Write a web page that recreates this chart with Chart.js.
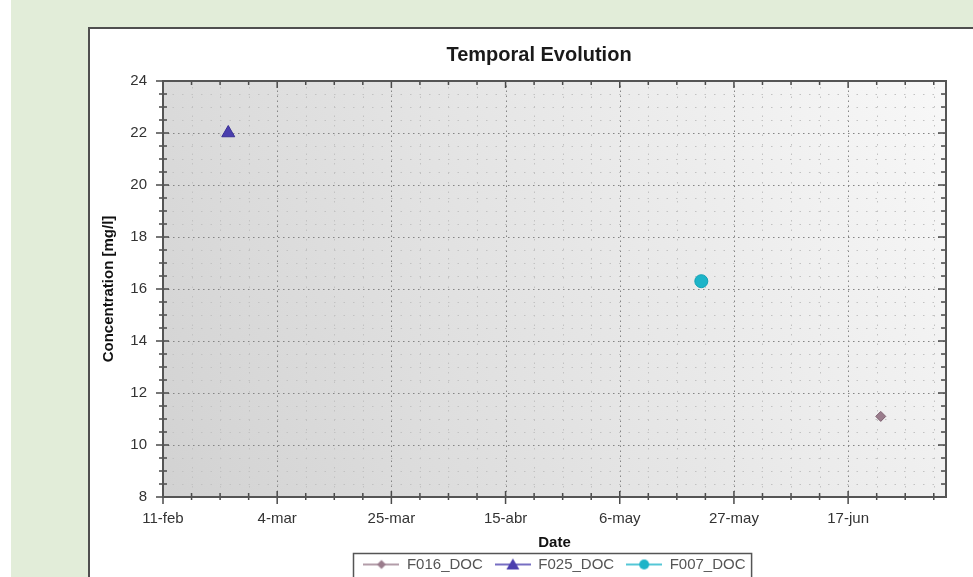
<!DOCTYPE html>
<html>
<head>
<meta charset="utf-8">
<title>Temporal Evolution</title>
<script src="https://cdn.jsdelivr.net/npm/chart.js@4.4.0/dist/chart.umd.min.js"></script>
<style>
  html, body { margin: 0; padding: 0; }
  body {
    width: 973px; height: 577px; overflow: hidden; position: relative;
    background: linear-gradient(to right, #fff 0, #fff 11px, #e2edd9 11px);
  }
  #panel { position: absolute; left: 88px; top: 27px; width: 1000px; height: 700px; background: #fff; border: 2px solid #4f4f4f; }
  #wrap { position: absolute; left: 0; top: 0; width: 973px; height: 600px; }
</style>
</head>
<body>
<div id="panel"></div>
<div id="wrap"><canvas id="chart"></canvas></div>
<script>
// data
const seriesNames = ['F016_DOC', 'F025_DOC', 'F007_DOC'];
const f016Dates = ['23-jun'];
const f016Values = [11.1];
const f025Dates = ['23-feb'];
const f025Values = [22.0];
const f007Dates = ['21-may'];
const f007Values = [16.3];
const xTickLabels = ['11-feb', '4-mar', '25-mar', '15-abr', '6-may', '27-may', '17-jun'];
const xRange = ['11-feb', '5-jul'];
const yTickLabels = [8, 10, 12, 14, 16, 18, 20, 22, 24];

const monthNames = ['ene', 'feb', 'mar', 'abr', 'may', 'jun', 'jul', 'ago', 'sep', 'oct', 'nov', 'dic'];
const FONT = '"Liberation Sans", Arial, sans-serif';

// day number counted from the first date on the axis (non leap year)
function dayOf(s) {
  const parts = s.split('-');
  const t = Date.UTC(2013, monthNames.indexOf(parts[1]), +parts[0]);
  return Math.round((t - Date.UTC(2013, 1, 11)) / 86400000);
}
const xTickDays = xTickLabels.map(dayOf);

const seriesColors = ['#9a7c8c', '#4a3eae', '#1db4c8'];
const seriesBorders = ['#7e6070', '#3a3096', '#14a3b6'];
const seriesMarkers = ['rectRot', 'triangle', 'circle'];
const seriesRadius = [5, 7.5, 6.5];
const seriesDates = [f016Dates, f025Dates, f007Dates];
const seriesValues = [f016Values, f025Values, f007Values];

function legendIcon(color, marker) {
  const c = document.createElement('canvas');
  c.width = 36; c.height = 14;
  const g = c.getContext('2d');
  g.strokeStyle = color; g.lineWidth = 1.5;
  g.beginPath(); g.moveTo(0, 7); g.lineTo(36, 7); g.stroke();
  g.fillStyle = color;
  g.beginPath();
  if (marker === 'circle') {
    g.arc(18, 7, 5, 0, Math.PI * 2);
  } else if (marker === 'triangle') {
    g.moveTo(18, 1); g.lineTo(24.5, 12); g.lineTo(11.5, 12); g.closePath();
  } else {
    g.moveTo(18, 2.5); g.lineTo(22.5, 7); g.lineTo(18, 11.5); g.lineTo(13.5, 7); g.closePath();
  }
  g.fill();
  return c;
}

// background, dotted grid, frame with tick marks, legend box
const plotFrame = {
  id: 'plotFrame',
  afterLayout(chart) {
    const a = chart.chartArea;
    if (chart.legend) { chart.legend.left = a.left; chart.legend.right = a.right; }
    if (chart.titleBlock) { chart.titleBlock.left = a.left - 31; chart.titleBlock.right = a.right; }
  },
  beforeDatasetsDraw(chart) {
    const {ctx, chartArea: a, scales: {x, y}} = chart;
    ctx.save();
    const grad = ctx.createLinearGradient(a.left, a.bottom, a.right, a.top);
    grad.addColorStop(0, '#d2d2d2');
    grad.addColorStop(1, '#f8f8f8');
    ctx.fillStyle = grad;
    ctx.fillRect(a.left, a.top, a.width, a.height);
    ctx.lineWidth = 1;
    x.ticks.forEach(t => {
      const major = xTickDays.includes(t.value);
      const px = Math.round(x.getPixelForValue(t.value)) + 0.5;
      ctx.strokeStyle = major ? '#858585' : '#c2c2c2';
      ctx.setLineDash(major ? [1.5, 3.5] : [1.5, 8]);
      ctx.beginPath(); ctx.moveTo(px, a.bottom); ctx.lineTo(px, a.top); ctx.stroke();
    });
    y.ticks.forEach(t => {
      const major = yTickLabels.includes(t.value);
      const py = Math.round(y.getPixelForValue(t.value)) + 0.5;
      ctx.strokeStyle = major ? '#858585' : '#c2c2c2';
      ctx.setLineDash(major ? [1.5, 3.5] : [1.5, 8]);
      ctx.beginPath(); ctx.moveTo(a.left, py); ctx.lineTo(a.right, py); ctx.stroke();
    });
    ctx.restore();
  },
  afterDatasetsDraw(chart) {
    const {ctx, chartArea: a, scales: {x, y}} = chart;
    ctx.save();
    ctx.strokeStyle = '#4a4a4a';
    ctx.lineWidth = 1.5;
    x.ticks.forEach(t => {
      const major = xTickDays.includes(t.value);
      const px = x.getPixelForValue(t.value);
      ctx.beginPath();
      ctx.moveTo(px, a.bottom + (major ? 7 : 3)); ctx.lineTo(px, a.bottom - (major ? 6 : 4));
      ctx.moveTo(px, a.top); ctx.lineTo(px, a.top + (major ? 7 : 4));
      ctx.stroke();
    });
    y.ticks.forEach(t => {
      const major = yTickLabels.includes(t.value);
      const py = y.getPixelForValue(t.value);
      ctx.beginPath();
      ctx.moveTo(a.left - (major ? 7 : 4), py); ctx.lineTo(a.left + (major ? 6 : 4), py);
      ctx.moveTo(a.right, py); ctx.lineTo(a.right - (major ? 8 : 5), py);
      ctx.stroke();
    });
    ctx.lineWidth = 2;
    ctx.strokeStyle = '#555';
    ctx.strokeRect(a.left, a.top, a.width, a.height);
    ctx.restore();
  },
  afterDraw(chart) {
    const boxes = chart.legend && chart.legend.legendHitBoxes;
    if (!boxes || !boxes.length) return;
    const {ctx} = chart;
    const left = Math.min(...boxes.map(b => b.left)) - 10;
    const right = Math.max(...boxes.map(b => b.left + b.width)) + 6;
    const top = Math.min(...boxes.map(b => b.top)) - 4;
    ctx.save();
    ctx.strokeStyle = '#555';
    ctx.lineWidth = 1.5;
    ctx.strokeRect(Math.round(left) + 0.5, Math.round(top) + 0.5, right - left, 26);
    ctx.restore();
  }
};

const ctx = document.getElementById('chart').getContext('2d');
const chart = new Chart(ctx, {
  type: 'scatter',
  data: {
    datasets: seriesNames.map((name, i) => ({
      label: name,
      data: seriesDates[i].map((d, k) => ({x: dayOf(d), y: seriesValues[i][k]})),
      pointStyle: seriesMarkers[i],
      pointRadius: seriesRadius[i],
      backgroundColor: seriesColors[i],
      borderColor: seriesBorders[i],
      borderWidth: 1,
      showLine: false
    }))
  },
  options: {
    responsive: true,
    maintainAspectRatio: false,
    animation: false,
    events: [],
    layout: { padding: { left: 95, right: 27, top: 28, bottom: 18 } },
    plugins: {
      title: {
        display: true,
        text: 'Temporal Evolution',
        color: '#1a1a1a',
        font: { family: FONT, size: 20, weight: 'bold' },
        padding: { top: 15, bottom: 14 }
      },
      legend: {
        position: 'bottom',
        labels: {
          usePointStyle: true,
          pointStyleWidth: 36,
          padding: 12,
          color: '#555',
          font: { family: FONT, size: 15 },
          generateLabels: ch => ch.data.datasets.map((ds, i) => ({
            text: ds.label,
            pointStyle: legendIcon(seriesColors[i], seriesMarkers[i]),
            fontColor: '#555',
            datasetIndex: i,
            hidden: false,
            lineWidth: 0
          }))
        }
      },
      tooltip: { enabled: false }
    },
    scales: {
      x: {
        type: 'linear',
        min: dayOf(xRange[0]),
        max: dayOf(xRange[1]),
        grid: { display: false, drawTicks: false },
        border: { display: false },
        ticks: {
          stepSize: 5.25,
          includeBounds: false,
          autoSkip: false,
          maxRotation: 0,
          padding: 13,
          color: '#333',
          font: { family: FONT, size: 15 },
          callback: v => {
            const idx = xTickDays.indexOf(v);
            return idx >= 0 ? xTickLabels[idx] : '';
          }
        },
        title: {
          display: true,
          text: 'Date',
          color: '#111',
          font: { family: FONT, size: 15, weight: 'bold' },
          padding: { top: 0, bottom: -7 }
        },
        afterFit: s => { s.height = 48; }
      },
      y: {
        min: yTickLabels[0],
        max: yTickLabels[yTickLabels.length - 1],
        grid: { display: false, drawTicks: false },
        border: { display: false },
        ticks: {
          stepSize: 0.5,
          includeBounds: false,
          autoSkip: false,
          padding: 16,
          color: '#333',
          font: { family: FONT, size: 15 },
          callback: v => (yTickLabels.includes(v) ? String(v) : '')
        },
        title: {
          display: true,
          text: 'Concentration [mg/l]',
          color: '#111',
          font: { family: FONT, size: 15, weight: 'bold' },
          padding: { top: 5, bottom: 0 }
        },
        afterFit: s => { s.width = 68; }
      }
    }
  },
  plugins: [plotFrame]
});
</script>
</body>
</html>
